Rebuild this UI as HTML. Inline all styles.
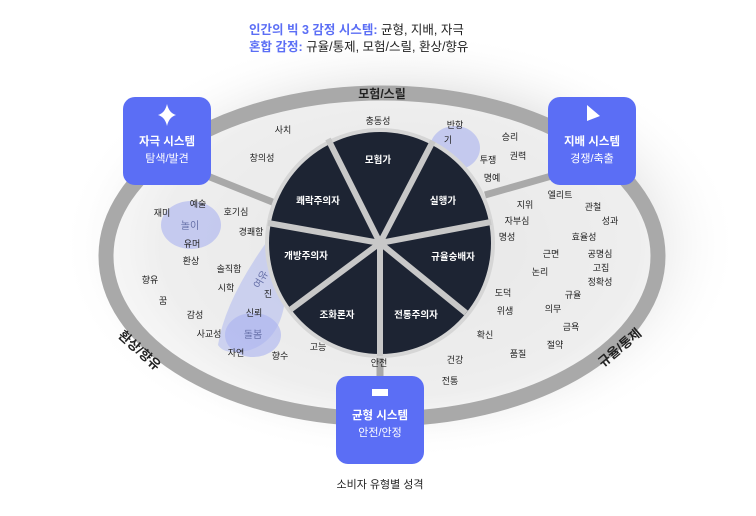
<!DOCTYPE html>
<html><head><meta charset="utf-8"><style>
body{margin:0;width:756px;height:511px;background:#fff;overflow:hidden;font-family:"Liberation Sans","Noto Sans CJK KR",sans-serif}
svg text{font-family:"Liberation Sans","Noto Sans CJK KR",sans-serif}
</style></head><body>
<svg width="756" height="511" viewBox="0 0 756 511">
<defs>
<radialGradient id="bg" cx="50%" cy="50%" r="50%">
<stop offset="0" stop-color="#d4d4d4"/><stop offset="0.7" stop-color="#e6e6e6"/><stop offset="1" stop-color="#fff" stop-opacity="0"/>
</radialGradient>
</defs>
<ellipse cx="400" cy="245" rx="340" ry="215" fill="url(#bg)"/>
<ellipse cx="382" cy="256" rx="276" ry="163" fill="#f3f3f3" fill-opacity="0.6" stroke="#a9a9a9" stroke-width="15"/>
<text x="382" y="98" font-size="12" font-weight="bold" fill="#222" text-anchor="middle">모험/스릴</text>
<text x="140" y="355" font-size="13" font-weight="bold" fill="#222" text-anchor="middle" transform="rotate(42 140 350)">환상/향유</text>
<text x="620" y="352" font-size="13" font-weight="bold" fill="#222" text-anchor="middle" transform="rotate(-40 620 348)">규율/통제</text>
<line x1="205" y1="175" x2="275" y2="203" stroke="#a9a9a9" stroke-width="7"/>
<line x1="555" y1="175" x2="485" y2="195" stroke="#a9a9a9" stroke-width="7"/>
<line x1="380" y1="350" x2="380" y2="380" stroke="#a9a9a9" stroke-width="7"/>
<ellipse cx="191" cy="225" rx="30" ry="24" fill="#aab3f0" opacity="0.6"/>
<path d="M268 240 Q290 250 285 300 Q280 340 250 350 Q225 356 218 345 Q225 300 268 240 Z" fill="#aab3f0" opacity="0.5"/>
<ellipse cx="253" cy="335" rx="28" ry="22" fill="#aab3f0" opacity="0.6"/>
<ellipse cx="455" cy="148" rx="25" ry="22" fill="#aab3f0" opacity="0.6"/>
<circle cx="380" cy="243" r="115" fill="#d6d6d6"/>
<circle cx="380" cy="243" r="111" fill="#1d2433"/>
<g stroke="#c8c8c8" stroke-width="6">
<line x1="380" y1="243" x2="328" y2="139"/>
<line x1="380" y1="243" x2="433" y2="141"/>
<line x1="380" y1="243" x2="491" y2="222"/>
<line x1="380" y1="243" x2="466" y2="313"/>
<line x1="380" y1="243" x2="380" y2="356"/>
<line x1="380" y1="243" x2="290" y2="310"/>
<line x1="380" y1="243" x2="268" y2="223"/>
</g>
<g font-size="9.5" font-weight="bold" fill="#fff" text-anchor="middle">
<text x="378" y="163">모험가</text>
<text x="443" y="204">실행가</text>
<text x="453" y="260">규율숭배자</text>
<text x="416" y="318">전통주의자</text>
<text x="337" y="318">조화론자</text>
<text x="306" y="259">개방주의자</text>
<text x="318" y="204">쾌락주의자</text>
</g>
<g font-size="9" fill="#222" text-anchor="middle">
<text x="283" y="133">사치</text><text x="262" y="161">창의성</text><text x="378" y="124">충동성</text>
<text x="455" y="128">반항</text><text x="448" y="143">기</text><text x="488" y="163">투쟁</text><text x="510" y="140">승리</text><text x="518" y="159">권력</text><text x="492" y="181">명예</text>
<text x="560" y="198">엘리트</text><text x="525" y="208">지위</text><text x="517" y="224">자부심</text><text x="507" y="240">명성</text>
<text x="593" y="210">관철</text><text x="610" y="224">성과</text><text x="584" y="240">효율성</text><text x="551" y="257">근면</text>
<text x="600" y="257">공명심</text><text x="601" y="271">고집</text><text x="600" y="285">정확성</text><text x="540" y="275">논리</text>
<text x="503" y="296">도덕</text><text x="573" y="298">규율</text><text x="505" y="314">위생</text><text x="553" y="312">의무</text>
<text x="571" y="330">금욕</text><text x="485" y="338">확신</text><text x="555" y="348">절약</text><text x="518" y="357">품질</text>
<text x="455" y="363">건강</text><text x="450" y="384">전통</text><text x="379" y="366">안전</text><text x="318" y="350">고능</text><text x="280" y="359">향수</text>
<text x="198" y="207">예술</text><text x="162" y="216">재미</text><text x="236" y="215">호기심</text><text x="251" y="235">경쾌함</text>
<text x="192" y="247">유머</text><text x="191" y="264">환상</text><text x="229" y="272">솔직함</text><text x="150" y="283">향유</text>
<text x="226" y="291">시학</text><text x="268" y="297">진</text><text x="163" y="304">꿈</text><text x="195" y="318">감성</text>
<text x="254" y="316">신뢰</text><text x="209" y="337">사교성</text><text x="236" y="356">자연</text>
</g>
<text x="190" y="229" font-size="10" fill="#6670a8" text-anchor="middle">놀이</text>
<text x="253" y="338" font-size="10" fill="#6670a8" text-anchor="middle">돌봄</text>
<text x="262" y="282" font-size="10" fill="#6670a8" text-anchor="middle" transform="rotate(-60 262 280)">여유</text>
<rect x="123" y="97" width="88" height="88" rx="12" fill="#5b6ef5"/>
<path d="M167 104 Q169 113 176 115 Q169 117 167 126 Q165 117 158 115 Q165 113 167 104Z" fill="#fff"/>
<text x="167" y="145" font-size="11.5" font-weight="bold" fill="#fff" text-anchor="middle">자극 시스템</text>
<text x="167" y="162" font-size="11" fill="#fff" text-anchor="middle">탐색/발견</text>
<rect x="548" y="97" width="88" height="88" rx="12" fill="#5b6ef5"/>
<path d="M587 105 L587 121 L600 116Z" fill="#fff"/>
<text x="592" y="145" font-size="11.5" font-weight="bold" fill="#fff" text-anchor="middle">지배 시스템</text>
<text x="592" y="162" font-size="11" fill="#fff" text-anchor="middle">경쟁/축출</text>
<rect x="336" y="376" width="88" height="88" rx="12" fill="#5b6ef5"/>
<rect x="372" y="389" width="16" height="7" fill="#fff"/>
<text x="380" y="419" font-size="11.5" font-weight="bold" fill="#fff" text-anchor="middle">균형 시스템</text>
<text x="380" y="436" font-size="11" fill="#fff" text-anchor="middle">안전/안정</text>
<text x="380" y="488" font-size="11" fill="#222" text-anchor="middle">소비자 유형별 성격</text>
<text x="249" y="34" font-size="12.5" font-weight="bold" fill="#5b6ef5">인간의 빅 3 감정 시스템: <tspan fill="#222" font-weight="normal">균형, 지배, 자극</tspan></text>
<text x="249" y="51" font-size="12.5" font-weight="bold" fill="#5b6ef5">혼합 감정: <tspan fill="#222" font-weight="normal">규율/통제, 모험/스릴, 환상/향유</tspan></text>
</svg>
</body></html>
